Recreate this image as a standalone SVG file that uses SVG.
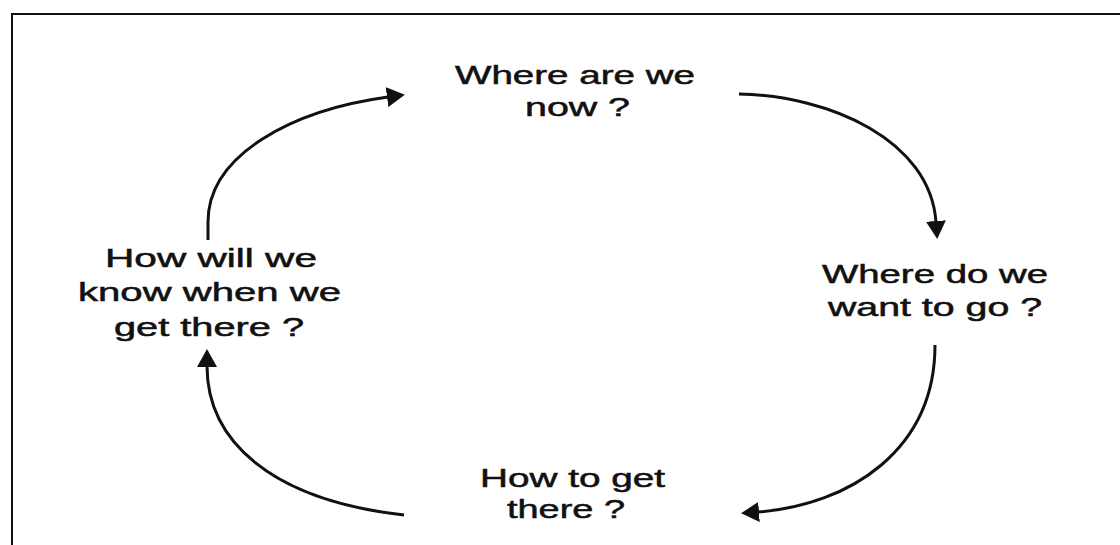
<svg xmlns="http://www.w3.org/2000/svg" width="1120" height="545" viewBox="0 0 1120 545">
<style>
.t{font-family:"Liberation Sans",Arial,sans-serif;font-size:25px;fill:#111;stroke:#111;stroke-width:0.5;}
.c{fill:none;stroke:#111;stroke-width:3;}
.frame{fill:none;stroke:#111;stroke-width:2;}
</style>
<defs>
<marker id="ah" viewBox="0 0 18 20" refX="1" refY="10" markerWidth="18" markerHeight="20" markerUnits="userSpaceOnUse" orient="auto">
<path d="M0,0 L18,10 L0,20 z" fill="#111"/>
</marker>
</defs>
<rect width="1120" height="545" fill="#fff"/>
<path class="frame" d="M12,545 V14 H1120"/>
<g id="n1">
<text class="t" x="455" y="84" textLength="240" lengthAdjust="spacingAndGlyphs">Where are we</text>
<text class="t" x="525" y="116" textLength="105" lengthAdjust="spacingAndGlyphs">now ?</text>
</g>
<g id="n2">
<text class="t" x="822" y="283" textLength="226" lengthAdjust="spacingAndGlyphs">Where do we</text>
<text class="t" x="828" y="316" textLength="214" lengthAdjust="spacingAndGlyphs">want to go ?</text>
</g>
<g id="n3">
<text class="t" x="480" y="487" textLength="185" lengthAdjust="spacingAndGlyphs">How to get</text>
<text class="t" x="507" y="518" textLength="118" lengthAdjust="spacingAndGlyphs">there ?</text>
</g>
<g id="n4">
<text class="t" x="105" y="267" textLength="212" lengthAdjust="spacingAndGlyphs">How will we</text>
<text class="t" x="78" y="301" textLength="263" lengthAdjust="spacingAndGlyphs">know when we</text>
<text class="t" x="114" y="336" textLength="190" lengthAdjust="spacingAndGlyphs">get there ?</text>
</g>
<g id="connectors">
<path class="c" marker-end="url(#ah)" d="M208,240 L208,222 C208,155 292,110 388,97"/>
<path class="c" marker-end="url(#ah)" d="M739,94 C830,96 930,140 936,222"/>
<path class="c" marker-end="url(#ah)" d="M935,345 C935,450 850,505 758,512"/>
<path class="c" marker-end="url(#ah)" d="M404,515 C270,500 207,440 207,366"/>
</g>
</svg>
